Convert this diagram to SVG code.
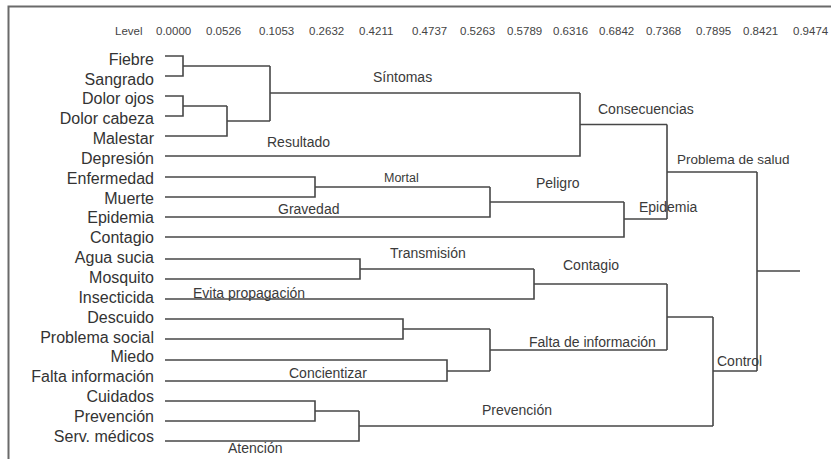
<svg xmlns="http://www.w3.org/2000/svg" width="831" height="459" viewBox="0 0 831 459">
<style>
.frame{stroke:#6a6a6a;stroke-width:2;fill:none}
.hdr{font-family:"Liberation Sans",Arial,sans-serif;font-size:11.5px;fill:#444}
.leaf{font-family:"Liberation Sans",Arial,sans-serif;font-size:16px;fill:#333;text-anchor:end}
.lbl{font-family:"Liberation Sans",Arial,sans-serif;font-size:14px;fill:#3a3a3a}
.conn path{stroke:#474747;stroke-width:1.6;fill:none}
</style>
<rect width="831" height="459" fill="#ffffff"/>
<path class="frame" d="M831,6.5 H8.5 V459"/>
<g id="header">
<text class="hdr" x="115" y="35">Level</text>
<text class="hdr" x="156" y="35">0.0000</text>
<text class="hdr" x="206" y="35">0.0526</text>
<text class="hdr" x="259" y="35">0.1053</text>
<text class="hdr" x="309" y="35">0.2632</text>
<text class="hdr" x="359" y="35">0.4211</text>
<text class="hdr" x="412" y="35">0.4737</text>
<text class="hdr" x="460" y="35">0.5263</text>
<text class="hdr" x="507" y="35">0.5789</text>
<text class="hdr" x="553" y="35">0.6316</text>
<text class="hdr" x="599" y="35">0.6842</text>
<text class="hdr" x="646" y="35">0.7368</text>
<text class="hdr" x="696" y="35">0.7895</text>
<text class="hdr" x="743" y="35">0.8421</text>
<text class="hdr" x="793" y="35">0.9474</text>
</g>
<g class="conn" id="connectors">
<path d="M165,56 H183 V76 H165 M183,66 H270"/>
<path d="M165,96 H183 V116 H165 M183,106 H227"/>
<path d="M165,136 H227 V106 M227,121 H270"/>
<path d="M270,66 V121 M270,93 H580"/>
<path d="M165,156 H580 V93 M580,124.5 H667"/>
<path d="M165,177 H315 V197 H165 M315,187 H490"/>
<path d="M165,217 H490 V187 M490,202 H624"/>
<path d="M165,237 H624 V202 M624,219 H667"/>
<path d="M667,124.5 V219 M667,172 H757"/>
<path d="M165,259 H360 V279 H165 M360,269 H534"/>
<path d="M165,299 H534 V269 M534,284 H667"/>
<path d="M165,319 H403 V339 H165 M403,329 H490"/>
<path d="M165,360 H447 V381 H165 M447,371 H490"/>
<path d="M490,329 V371 M490,350 H667"/>
<path d="M667,284 V350 M667,317 H713"/>
<path d="M165,401 H315 V421 H165 M315,411 H359"/>
<path d="M165,441 H359 V411 M359,426 H713"/>
<path d="M713,317 V426 M713,371 H757"/>
<path d="M757,172 V371 M757,271 H800"/>
</g>
<g id="leaf-fiebre"><text class="leaf" x="154" y="64.7">Fiebre</text></g>
<g id="leaf-sangrado"><text class="leaf" x="154" y="84.5">Sangrado</text></g>
<g id="leaf-dolor-ojos"><text class="leaf" x="154" y="104.4">Dolor ojos</text></g>
<g id="leaf-dolor-cabeza"><text class="leaf" x="154" y="124.2">Dolor cabeza</text></g>
<g id="leaf-malestar"><text class="leaf" x="154" y="144.1">Malestar</text></g>
<g id="leaf-depresion"><text class="leaf" x="154" y="163.9">Depresión</text></g>
<g id="leaf-enfermedad"><text class="leaf" x="154" y="183.7">Enfermedad</text></g>
<g id="leaf-muerte"><text class="leaf" x="154" y="203.6">Muerte</text></g>
<g id="leaf-epidemia"><text class="leaf" x="154" y="223.4">Epidemia</text></g>
<g id="leaf-contagio"><text class="leaf" x="154" y="243.3">Contagio</text></g>
<g id="leaf-agua-sucia"><text class="leaf" x="154" y="263.1">Agua sucia</text></g>
<g id="leaf-mosquito"><text class="leaf" x="154" y="282.9">Mosquito</text></g>
<g id="leaf-insecticida"><text class="leaf" x="154" y="302.8">Insecticida</text></g>
<g id="leaf-descuido"><text class="leaf" x="154" y="322.6">Descuido</text></g>
<g id="leaf-problema-social"><text class="leaf" x="154" y="342.5">Problema social</text></g>
<g id="leaf-miedo"><text class="leaf" x="154" y="362.3">Miedo</text></g>
<g id="leaf-falta-informacion"><text class="leaf" x="154" y="382.1">Falta información</text></g>
<g id="leaf-cuidados"><text class="leaf" x="154" y="402">Cuidados</text></g>
<g id="leaf-prevencion"><text class="leaf" x="154" y="421.8">Prevención</text></g>
<g id="leaf-serv-medicos"><text class="leaf" x="154" y="441.7">Serv. médicos</text></g>
<g id="cl-sintomas"><text class="lbl" x="373" y="82">Síntomas</text></g>
<g id="cl-consecuencias"><text class="lbl" x="598" y="114">Consecuencias</text></g>
<g id="cl-resultado"><text class="lbl" x="267" y="147">Resultado</text></g>
<g id="cl-problema-salud"><text class="lbl" x="677" y="164" style="font-size:13.5px">Problema de salud</text></g>
<g id="cl-mortal"><text class="lbl" x="384" y="182" style="font-size:12.5px">Mortal</text></g>
<g id="cl-peligro"><text class="lbl" x="536" y="188">Peligro</text></g>
<g id="cl-gravedad"><text class="lbl" x="278" y="214">Gravedad</text></g>
<g id="cl-epidemia"><text class="lbl" x="639" y="212">Epidemia</text></g>
<g id="cl-transmision"><text class="lbl" x="390" y="258">Transmisión</text></g>
<g id="cl-contagio"><text class="lbl" x="563" y="270">Contagio</text></g>
<g id="cl-evita"><text class="lbl" x="193" y="298">Evita propagación</text></g>
<g id="cl-falta-info"><text class="lbl" x="529" y="347">Falta de información</text></g>
<g id="cl-control"><text class="lbl" x="717" y="366">Control</text></g>
<g id="cl-concientizar"><text class="lbl" x="289" y="378">Concientizar</text></g>
<g id="cl-prevencion"><text class="lbl" x="482" y="415">Prevención</text></g>
<g id="cl-atencion"><text class="lbl" x="228" y="453">Atención</text></g>
</svg>
